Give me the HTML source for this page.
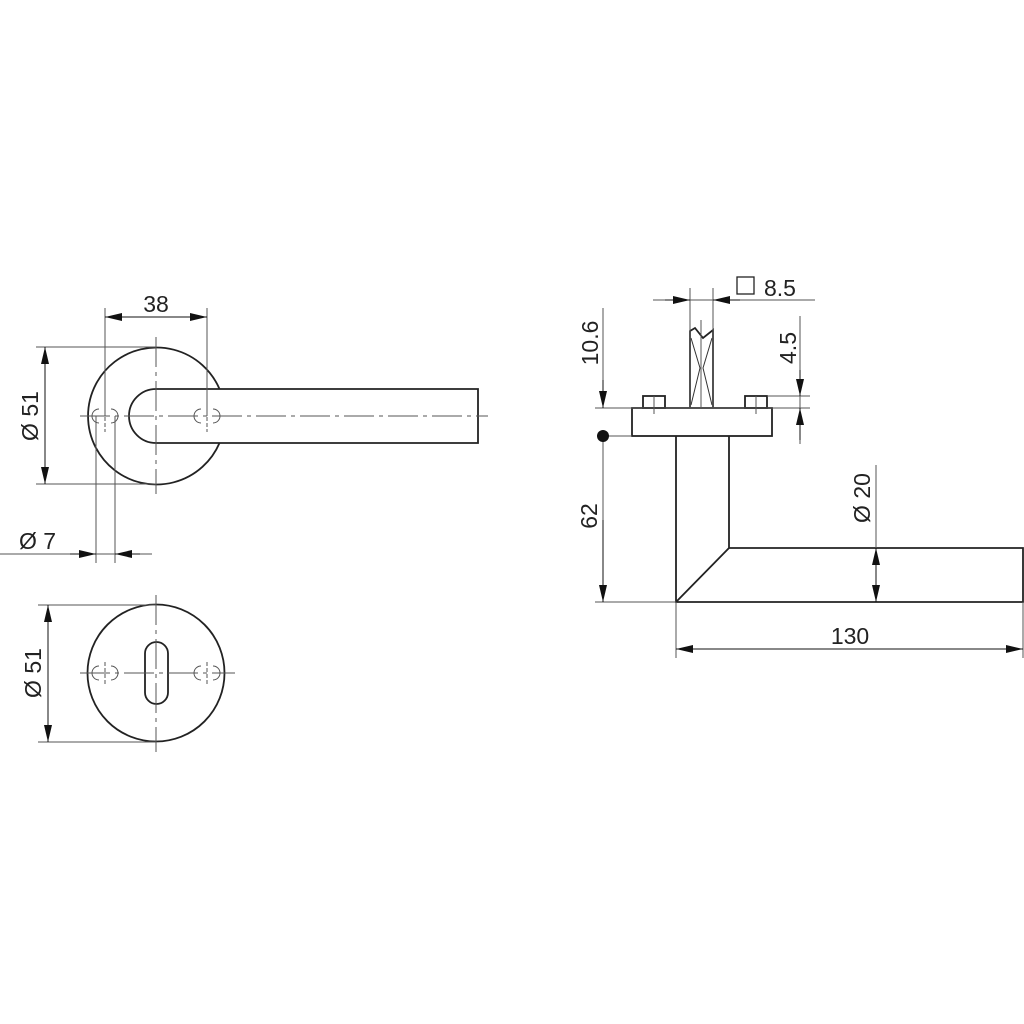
<!DOCTYPE html>
<html><head><style>html,body{margin:0;padding:0;background:#fff}svg{display:block}text{font-family:"Liberation Sans",sans-serif;font-size:23px;fill:#222}</style></head>
<body>
<svg width="1024" height="1024" viewBox="0 0 1024 1024" xmlns="http://www.w3.org/2000/svg">
<defs>
<marker id="a" viewBox="0 0 17 8" refX="17" refY="4" markerWidth="17" markerHeight="8" markerUnits="userSpaceOnUse" orient="auto"><path d="M0,0L17,4L0,8z" fill="#111"/></marker>
</defs>
<g fill="none" stroke="#222" stroke-width="1.8">
<path d="M219.5,389 A68.5,68.5 0 1 0 219.5,443"/>
<path d="M478,389 H156 A27,27 0 0 0 156,443 H478 Z"/>
<circle cx="156" cy="673" r="68.5"/>
<rect x="145" y="642" width="23" height="62" rx="11.5"/>
<rect x="632" y="408" width="140" height="28"/>
<rect x="643" y="396" width="22" height="12"/>
<rect x="745" y="396" width="22" height="12"/>
<path d="M690,408 V331 L695,328 L703,338 L713,330 V408"/>
<path d="M676,436 V602 H1023 V548 H729 V436 M676,602 L729,548"/>
</g>
<g fill="none" stroke="#333" stroke-width="1">
<path d="M691,338 L700,368 L691,405 M712,338 L703,368 L712,405"/>
</g>
<g fill="none" stroke="#555" stroke-width="1">
<path d="M80,416 H488" stroke-dasharray="30,5,4,5"/>
<path d="M156,337 V494" stroke-dasharray="30,5,4,5"/>
<path d="M80,673 H235" stroke-dasharray="30,5,4,5"/>
<path d="M156,595 V752" stroke-dasharray="30,5,4,5"/>
<path d="M105,405 V432 M207,405 V432 M105,662 V684 M207,662 V684" stroke-dasharray="4,2"/>
<path d="M99,409 A7,7 0 0 0 99,423 M111,409 A7,7 0 0 1 111,423 M201,409 A7,7 0 0 0 201,423 M213,409 A7,7 0 0 1 213,423 M99,666 A7,7 0 0 0 99,680 M111,666 A7,7 0 0 1 111,680 M201,666 A7,7 0 0 0 201,680 M213,666 A7,7 0 0 1 213,680"/>
<path d="M701,320 V408 M654,396 V414 M756,396 V414" />
<path d="M105,308 V416 M207,308 V416"/>
<path d="M36,347 H156 M36,484 H156"/>
<path d="M96,416 V563 M115,416 V563"/>
<path d="M38,605 H156 M38,742 H156"/>
<path d="M690,288 V408 M713,288 V408"/>
<path d="M595,408 H810 M767,396 H810"/>
<path d="M603,436 H632"/>
<path d="M595,602 H676"/>
<path d="M676,602 V658 M1023,602 V658"/>
<path d="M876,465 V602"/>
<path d="M105,317 H207"/>
<path d="M45,347 V484"/>
<path d="M0,554 H152"/>
<path d="M48,605 V742"/>
<path d="M653,300 H815"/>
<path d="M603,308 V408"/>
<path d="M603,436 V602"/>
<path d="M800,316 V444"/>
<path d="M676,649 H1023"/>
</g>
<g stroke="#111" stroke-width="1" fill="none">
<line x1="156" y1="317" x2="105" y2="317" marker-end="url(#a)"/>
<line x1="156" y1="317" x2="207" y2="317" marker-end="url(#a)"/>
<line x1="45" y1="416" x2="45" y2="347" marker-end="url(#a)"/>
<line x1="45" y1="416" x2="45" y2="484" marker-end="url(#a)"/>
<line x1="70" y1="554" x2="96" y2="554" marker-end="url(#a)"/>
<line x1="140" y1="554" x2="115" y2="554" marker-end="url(#a)"/>
<line x1="48" y1="673" x2="48" y2="605" marker-end="url(#a)"/>
<line x1="48" y1="673" x2="48" y2="742" marker-end="url(#a)"/>
<line x1="665" y1="300" x2="690" y2="300" marker-end="url(#a)"/>
<line x1="740" y1="300" x2="713" y2="300" marker-end="url(#a)"/>
<line x1="603" y1="380" x2="603" y2="408" marker-end="url(#a)"/>
<line x1="800" y1="370" x2="800" y2="396" marker-end="url(#a)"/>
<line x1="800" y1="440" x2="800" y2="408" marker-end="url(#a)"/>
<line x1="603" y1="520" x2="603" y2="602" marker-end="url(#a)"/>
<line x1="876" y1="575" x2="876" y2="548" marker-end="url(#a)"/>
<line x1="876" y1="575" x2="876" y2="602" marker-end="url(#a)"/>
<line x1="850" y1="649" x2="676" y2="649" marker-end="url(#a)"/>
<line x1="850" y1="649" x2="1023" y2="649" marker-end="url(#a)"/>
</g>
<circle cx="603" cy="436" r="6" fill="#111"/>
<rect x="737" y="277" width="17" height="17" fill="none" stroke="#222" stroke-width="1.3"/>
<text x="156" y="312" text-anchor="middle">38</text>
<text x="19" y="549">Ø 7</text>
<text x="764" y="296">8.5</text>
<text x="850" y="644" text-anchor="middle">130</text>
<text transform="translate(38,416) rotate(-90)" text-anchor="middle">Ø 51</text>
<text transform="translate(41,673) rotate(-90)" text-anchor="middle">Ø 51</text>
<text transform="translate(598,343) rotate(-90)" text-anchor="middle">10.6</text>
<text transform="translate(796,348) rotate(-90)" text-anchor="middle">4.5</text>
<text transform="translate(597,516) rotate(-90)" text-anchor="middle">62</text>
<text transform="translate(870,498) rotate(-90)" text-anchor="middle">Ø 20</text>
</svg>
</body></html>
